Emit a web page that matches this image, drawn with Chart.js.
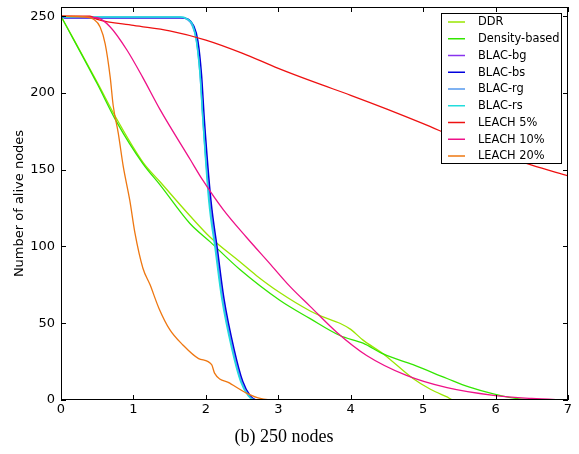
<!DOCTYPE html>
<html>
<head>
<meta charset="utf-8">
<script src="https://cdn.jsdelivr.net/npm/chart.js@4.4.1/dist/chart.umd.min.js"></script>
<style>
  html, body { margin: 0; padding: 0; background: #fff; }
  canvas { display: block; }
</style>
</head>
<body>
<canvas id="chart" width="579" height="454"></canvas>
<script>
// values (x = time, y = alive nodes)
const ddrX = [0, 0.5, 0.77, 1.13, 1.37, 1.78, 2.06, 2.47, 2.7, 3.02, 3.44, 3.6, 3.85, 4.0, 4.17, 4.45, 4.86, 5.1, 5.33, 5.42, 5.7];
const ddrY = [250, 207, 183, 155, 142, 120, 106, 90, 81, 70, 58, 54.5, 50, 46, 39, 30, 14, 7, 2, 0, 0];

const densX = [0, 0.5, 0.77, 1.13, 1.37, 1.78, 2.06, 2.47, 3.02, 3.44, 3.85, 4.17, 4.45, 4.86, 5.33, 5.63, 5.97, 6.35, 6.6, 7];
const densY = [250, 206, 181, 154, 140, 115, 103, 85, 65, 53, 42, 37, 30, 23, 14, 8.5, 4, 0.5, 0, 0];

const blacBgX = [0, 0.05, 1.65, 1.75, 1.82, 1.88, 1.93, 1.97, 2.06, 2.15, 2.24, 2.38, 2.5, 2.6, 2.7, 2.8];
const blacBgY = [250, 249, 249, 248, 244, 234, 212, 182, 130, 98, 66, 33, 12, 3, 0, 0];

const blacBsX = [0, 0.05, 1.66, 1.76, 1.83, 1.89, 1.94, 1.98, 2.07, 2.16, 2.25, 2.39, 2.51, 2.61, 2.71, 2.8];
const blacBsY = [250, 249, 249, 248, 244, 234, 212, 182, 130, 98, 66, 33, 12, 3, 0, 0];

const blacRgX = [0, 0.05, 1.64, 1.74, 1.81, 1.87, 1.92, 1.96, 2.05, 2.14, 2.23, 2.37, 2.49, 2.59, 2.69, 2.8];
const blacRgY = [250, 249.5, 249.5, 248, 244, 234, 212, 182, 130, 98, 66, 33, 12, 3, 0, 0];

const blacRsX = [0, 0.05, 1.65, 1.75, 1.82, 1.87, 1.92, 1.96, 2.04, 2.13, 2.22, 2.36, 2.48, 2.58, 2.67, 2.8];
const blacRsY = [250, 249.5, 249.5, 248, 244, 234, 212, 182, 130, 98, 66, 33, 12, 3, 0, 0];

const leach5X = [0, 0.4, 0.5, 1, 1.5, 2, 2.5, 3, 3.5, 4, 4.5, 5, 5.5, 6, 6.5, 7];
const leach5Y = [250, 250, 248, 244, 240.5, 234.5, 226, 216, 207, 198.5, 189.5, 180, 170, 161, 153, 146];

const leach10X = [0, 0.5, 0.68, 0.91, 1.13, 1.37, 1.78, 1.96, 2.24, 2.56, 2.88, 3.16, 3.44, 3.81, 4.22, 4.77, 5.33, 5.97, 6.5, 7];
const leach10Y = [250, 249, 243, 228, 210, 189, 157, 143, 124, 106, 89, 74, 61, 44, 29, 16, 8, 3, 1, 0];

const leach20X = [0, 0.35, 0.45, 0.54, 0.61, 0.68, 0.72, 0.79, 0.86, 0.95, 1.02, 1.13, 1.23, 1.35, 1.5, 1.68, 1.9, 2.08, 2.12, 2.33, 2.56, 2.75, 3.0, 3.5];
const leach20Y = [250, 249.5, 248, 243, 232, 210, 192, 174, 152, 130, 109, 86, 75, 60, 46, 36, 27, 23, 17.5, 11, 4.5, 1, 0, 0];

const seriesNames = ['DDR', 'Density-based', 'BLAC-bg', 'BLAC-bs', 'BLAC-rg', 'BLAC-rs', 'LEACH 5%', 'LEACH 10%', 'LEACH 20%'];
const seriesColors = ['#99e600', '#33e600', '#8833ee', '#0000dd', '#5599ee', '#22dddd', '#ee1111', '#ee1188', '#ee7711'];
const seriesX = [ddrX, densX, blacBgX, blacBsX, blacRgX, blacRsX, leach5X, leach10X, leach20X];
const seriesY = [ddrY, densY, blacBgY, blacBsY, blacRgY, blacRsY, leach5Y, leach10Y, leach20Y];

const xTicks = [0, 1, 2, 3, 4, 5, 6, 7];
const yTicks = [0, 50, 100, 150, 200, 250];

const datasets = seriesNames.map((name, i) => ({
  label: name,
  data: seriesX[i].map((x, j) => ({ x: x, y: seriesY[i][j] })),
  borderColor: seriesColors[i],
  backgroundColor: seriesColors[i],
  borderWidth: i >= 2 && i <= 5 ? 1.5 : 1.3,
  pointRadius: 0,
  cubicInterpolationMode: 'monotone',
  order: -i,  // later series on top, like the original
  fill: false
}));

// box round the plot, inward ticks on all four sides, and the legend
const framePlugin = {
  id: 'frame',
  afterDraw(chart) {
    const ctx = chart.ctx;
    const a = chart.chartArea;
    const xs = chart.scales.x, ys = chart.scales.y;
    ctx.save();
    ctx.strokeStyle = '#000';
    ctx.lineWidth = 1;
    ctx.strokeRect(a.left + 0.5, a.top + 0.5, a.right - a.left - 1, a.bottom - a.top - 1);
    ctx.beginPath();
    xTicks.forEach(t => {
      const px = Math.round(xs.getPixelForValue(t)) + 0.5;
      ctx.moveTo(px, a.bottom); ctx.lineTo(px, a.bottom - 5);
      ctx.moveTo(px, a.top); ctx.lineTo(px, a.top + 5);
    });
    yTicks.forEach(t => {
      const py = Math.round(ys.getPixelForValue(t)) + 0.5;
      ctx.moveTo(a.left, py); ctx.lineTo(a.left + 5, py);
      ctx.moveTo(a.right, py); ctx.lineTo(a.right - 5, py);
    });
    ctx.stroke();

    // legend
    const bx = 441, by = 13, bw = 120, bh = 150;
    ctx.fillStyle = '#fff';
    ctx.fillRect(bx, by, bw, bh);
    ctx.strokeRect(bx + 0.5, by + 0.5, bw, bh);
    ctx.font = '11.4px "DejaVu Sans"';
    ctx.textBaseline = 'middle';
    chart.data.datasets.forEach((ds, i) => {
      const y = 22 + i * 16.75;
      ctx.strokeStyle = ds.borderColor;
      ctx.lineWidth = 1.5;
      ctx.beginPath();
      ctx.moveTo(448, y); ctx.lineTo(465, y);
      ctx.stroke();
      ctx.fillStyle = '#000';
      ctx.fillText(ds.label, 478, y + 0.5);
    });
    ctx.restore();
  }
};

new Chart(document.getElementById('chart'), {
  type: 'line',
  data: { datasets: datasets },
  options: {
    responsive: false,
    animation: false,
    devicePixelRatio: 1,
    layout: { padding: { left: 0, right: 11, top: 7, bottom: 0 } },
    plugins: {
      legend: { display: false },
      tooltip: { enabled: false },
      title: {
        display: true,
        position: 'bottom',
        text: '(b) 250 nodes',
        color: '#000',
        font: { family: '"Liberation Serif", "DejaVu Serif", serif', size: 18, weight: 'normal' },
        padding: { top: 6, bottom: 6.4 }
      }
    },
    scales: {
      x: {
        type: 'linear',
        min: 0,
        max: 7,
        afterFit: s => { s.height = 20; s.paddingLeft = 0; s.paddingRight = 0; },
        grid: { display: false, drawTicks: false },
        border: { display: false },
        ticks: {
          stepSize: 1,
          padding: 2,
          color: '#000',
          font: { family: '"DejaVu Sans"', size: 13 }
        }
      },
      y: {
        min: 0,
        max: 256,
        afterFit: s => { s.width = 61; s.paddingTop = 0; s.paddingBottom = 0; },
        grid: { display: false, drawTicks: false },
        border: { display: false },
        ticks: {
          stepSize: 50,
          includeBounds: false,
          padding: 6,
          color: '#000',
          font: { family: '"DejaVu Sans"', size: 13 }
        },
        title: {
          display: true,
          text: 'Number of alive nodes',
          color: '#000',
          font: { family: '"DejaVu Sans"', size: 13 },
          padding: { top: 12, bottom: 0 }
        }
      }
    }
  },
  plugins: [framePlugin]
});
</script>
</body>
</html>
